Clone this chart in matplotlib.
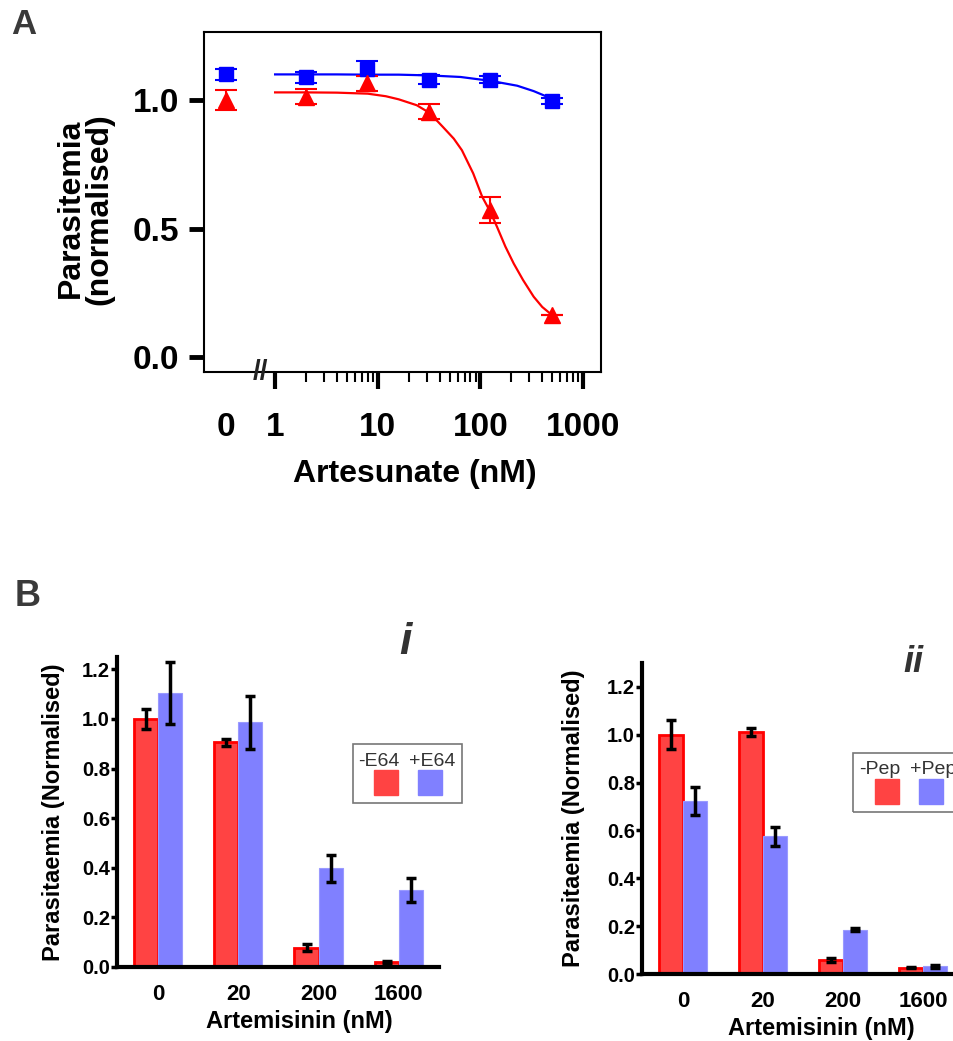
import numpy as np
import matplotlib
matplotlib.use("Agg")
import matplotlib.pyplot as plt
from matplotlib.patches import Rectangle
from matplotlib.ticker import FixedLocator, NullFormatter
from matplotlib.transforms import blended_transform_factory

plt.rcParams['font.family'] = ['Liberation Sans', 'DejaVu Sans']

# ---- Panel A data (artesunate dose response) ----
conc = [0.33, 2, 7.8, 31.25, 125, 500]          # 0 is drawn at 0.33 on the log axis
blue_y = [1.10, 1.088, 1.122, 1.080, 1.080, 0.997]
blue_err = [0.02, 0.02, 0.03, 0.018, 0.015, 0.012]
red_y = [1.00, 1.013, 1.065, 0.955, 0.572, 0.163]
red_err = [0.04, 0.03, 0.03, 0.03, 0.05, 0.0]

# fitted curves
blue_fit_x = [1, 4, 8, 16, 32, 64, 125, 228, 330, 447, 500]
blue_fit_y = [1.100, 1.100, 1.099, 1.099, 1.096, 1.090, 1.075, 1.056, 1.035, 1.013, 1.000]
red_fit_x = [1, 2, 4, 8, 12, 16, 24, 32, 43, 55, 66, 85, 104, 125, 145, 175, 211, 260, 330, 400, 500]
red_fit_y = [1.030, 1.030, 1.029, 1.025, 1.015, 1.003, 0.980, 0.950, 0.896, 0.850, 0.805, 0.715,
             0.624, 0.565, 0.507, 0.430, 0.364, 0.300, 0.235, 0.195, 0.163]

a_tick_pos = [0.33, 1, 10, 100, 1000]
a_tick_lab = ['0', '1', '10', '100', '1000']

# ---- Panel B data ----
groups = ['0', '20', '200', '1600']
e64_minus = [1.00, 0.906, 0.078, 0.019]
e64_minus_err = [0.04, 0.015, 0.015, 0.005]
e64_plus = [1.106, 0.987, 0.398, 0.310]
e64_plus_err = [0.125, 0.107, 0.055, 0.048]

pep_minus = [1.00, 1.012, 0.058, 0.027]
pep_minus_err = [0.06, 0.018, 0.008, 0.004]
pep_plus = [0.723, 0.576, 0.186, 0.033]
pep_plus_err = [0.057, 0.04, 0.008, 0.006]

W, H = 954, 1041
fig = plt.figure(figsize=(W / 100, H / 100), dpi=100)


def px_rect(l, t, r, b):
    return [l / W, 1 - b / H, (r - l) / W, (b - t) / H]


# ================= Panel A =================
ax = fig.add_axes(px_rect(204, 32, 601, 372))
ax.set_xscale('log')
ax.plot(blue_fit_x, blue_fit_y, color='#0000ff', lw=1.6)
ax.plot(red_fit_x, red_fit_y, color='#ff0000', lw=1.6)
ax.errorbar(conc, blue_y, yerr=blue_err, fmt='s', color='#0000ff', ms=10.5,
            capsize=8, elinewidth=1.5, capthick=1.5)
ax.errorbar(conc, red_y, yerr=red_err, fmt='^', color='#ff0000', ms=11.5,
            capsize=8, elinewidth=1.5, capthick=1.5)
ax.set_xlim(0.203, 1494)
ax.set_ylim(-0.058, 1.265)
ax.set_yticks([0.0, 0.5, 1.0])
ax.set_yticklabels(['0.0', '0.5', '1.0'], fontsize=24, fontweight='bold')
ax.xaxis.set_major_locator(FixedLocator(a_tick_pos))
ax.set_xticklabels(a_tick_lab, fontsize=24, fontweight='bold')
minor = [k * 10 ** d for d in range(3) for k in range(2, 10)]
ax.xaxis.set_minor_locator(FixedLocator(minor))
ax.xaxis.set_minor_formatter(NullFormatter())
ax.tick_params(axis='y', length=11, width=3.5, pad=7)
ax.tick_params(axis='x', which='major', length=12, width=3, pad=17)
ax.tick_params(axis='x', which='minor', length=7, width=1.5)
ax.xaxis.get_major_ticks()[0].tick1line.set_visible(False)
for s in ax.spines.values():
    s.set_linewidth(1.5)
ax.set_ylabel('Parasitemia\n(normalised)', fontsize=23, fontweight='bold', linespacing=0.95)
ax.yaxis.set_label_coords(-0.225, 0.48)
ax.set_xlabel('Artesunate (nM)', fontsize=23, fontweight='bold')
ax.xaxis.set_label_coords(0.53, -0.255)
tr = blended_transform_factory(ax.transData, ax.transAxes)
ax.text(0.72, 0.0, '//', transform=tr, ha='center', va='center', fontsize=20,
        fontweight='bold', clip_on=False, color='#222222')

fig.text(24 / W, 1 - 25 / H, 'A', fontsize=25, fontweight='bold', color='#3a3a3a',
         ha='center', va='center')
fig.text(28 / W, 1 - 597 / H, 'B', fontsize=26, fontweight='bold', color='#3a3a3a',
         ha='center', va='center')

# ================= Panel B =================
RED_FILL, RED_EDGE, BLUE_FILL = '#ff4343', '#ff0000', '#8080ff'


def bar_panel(rect, minus, minus_err, plus, plus_err, xlim, ylim, ylab_x):
    bx = fig.add_axes(rect)
    x = np.arange(len(groups))
    bw = 0.3
    bx.bar(x - bw / 2, minus, bw, color=RED_FILL, edgecolor=RED_EDGE, linewidth=2, zorder=2)
    bx.bar(x + bw / 2, plus, bw, color=BLUE_FILL, edgecolor='#9a9aff', linewidth=0.8, zorder=2)
    ekw = dict(fmt='none', ecolor='black', elinewidth=2.5, capsize=3.5, capthick=2.5, zorder=3)
    bx.errorbar(x - bw / 2, minus, yerr=minus_err, **ekw)
    bx.errorbar(x + bw / 2, plus, yerr=plus_err, **ekw)
    bx.set_xlim(*xlim)
    bx.set_ylim(*ylim)
    bx.set_xticks(x)
    bx.set_xticklabels(groups, fontsize=16, fontweight='bold')
    bx.set_yticks([0.0, 0.2, 0.4, 0.6, 0.8, 1.0, 1.2])
    bx.set_yticklabels(['0.0', '0.2', '0.4', '0.6', '0.8', '1.0', '1.2'],
                       fontsize=14.5, fontweight='bold')
    bx.tick_params(axis='x', length=0, pad=12)
    bx.tick_params(axis='y', length=4, width=2.5, pad=1)
    for s in ['top', 'right']:
        bx.spines[s].set_visible(False)
    for s in ['left', 'bottom']:
        bx.spines[s].set_linewidth(3)
    bx.set_ylabel('Parasitaemia (Normalised)', fontsize=17, fontweight='bold')
    bx.yaxis.set_label_coords(ylab_x, 0.5)
    bx.set_xlabel('Artemisinin (nM)', fontsize=17, fontweight='bold', labelpad=0)
    return bx


bi = bar_panel(px_rect(117, 657, 439, 967), e64_minus, e64_minus_err, e64_plus, e64_plus_err,
               (-0.51, 3.5), (0, 1.25), -0.16)
bi.xaxis.set_label_coords(0.565, -0.138)
bii = bar_panel(px_rect(642, 663, 1000, 974), pep_minus, pep_minus_err, pep_plus, pep_plus_err,
                (-0.51, 3.96), (0, 1.3), -0.16)
bii.xaxis.set_label_coords(0.5, -0.137)

fig.text(405 / W, 1 - 642 / H, 'i', fontsize=32, fontweight='bold', fontstyle='italic',
         color='#333333', ha='center', va='center')
fig.text(913 / W, 1 - 663 / H, 'ii', fontsize=26, fontweight='bold', fontstyle='italic',
         color='#333333', ha='center', va='center')


def legend_box(l, t, r, b, labels, text_x, text_y, sq_x, sq_t, sq_b, sq_w):
    fig.patches.append(Rectangle((l / W, 1 - b / H), (r - l) / W, (b - t) / H,
                                 transform=fig.transFigure, fill=False,
                                 edgecolor='#777777', linewidth=1.2))
    for lab, tx, sx, col in zip(labels, text_x, sq_x, [RED_FILL, BLUE_FILL]):
        fig.text(tx / W, 1 - text_y / H, lab, fontsize=14, color='#333333',
                 ha='center', va='center')
        fig.patches.append(Rectangle((sx / W, 1 - sq_b / H), sq_w / W, (sq_b - sq_t) / H,
                                     transform=fig.transFigure, color=col))


legend_box(353, 744, 462, 803, ['-E64', '+E64'], [379, 432], 761, [374, 418], 770, 795, 24)
legend_box(853, 753, 1000, 812, ['-Pep', '+Pep'], [880, 933], 770, [875, 919], 779, 804, 24)

fig.savefig('out.png', dpi=100)
